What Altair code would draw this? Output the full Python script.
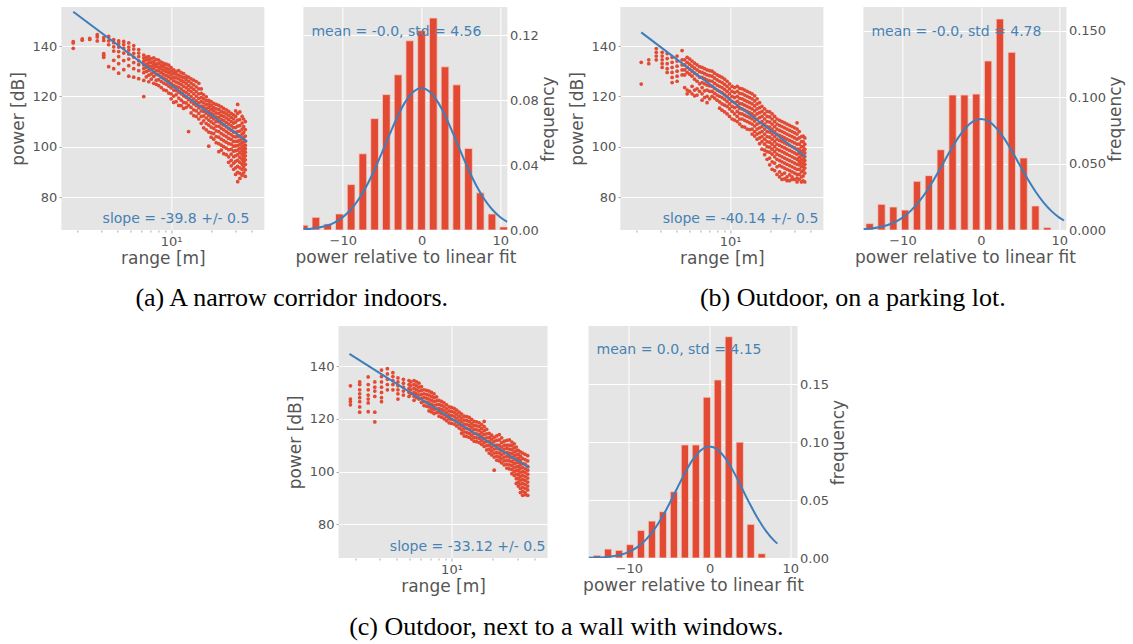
import altair as alt
import pandas as pd

RED = "#E24A33"
BLUE_LINE = "#3D7EBB"
BLUE_TEXT = "#4682B4"
BG = "#E5E5E5"
TXT = "#555555"

# ---------------- scatter data (range [m] columns, power [dB] values) ----------------
a_range = [1.86, 2.17, 2.47, 2.81, 3.14, 3.42, 3.73, 4.06, 4.43, 4.83, 5.26, 5.73, 6.25, 6.81,
           7.42, 8.08, 8.81, 9.6, 10.45, 11.4, 12.4, 13.5, 14.75, 16.1, 17.5, 19.1, 20.8, 22.7,
           24.7, 26.9, 29.3, 31.4, 33.9, 35.8]
a_power = [
    [139.1, 141.2, 141.7],
    [142.3, 142.8],
    [142.6, 143.0],
    [144.5, 143.6, 142.0],
    [143.3, 142.2, 137.0, 135.5, 136.3],
    [143.8, 142.0, 140.5, 131.8],
    [142.5, 141.3, 139.7, 138.0, 134.3, 131.0],
    [142.0, 141.0, 139.6, 137.8, 135.8, 133.0, 129.2],
    [141.8, 140.6, 139.2, 137.2, 134.2, 130.6],
    [141.2, 139.6, 138.4, 136.8, 134.8, 132.2, 128.0],
    [140.2, 138.8, 137.1, 135.6, 133.4, 131.0, 127.6],
    [138.6, 137.2, 135.8, 134.1, 132.6, 130.2, 127.0],
    [136.4, 135.2, 133.9, 132.5, 131.0, 129.4, 126.3, 119.9],
    [135.8, 134.6, 133.3, 132.0, 130.3, 128.4, 125.8],
    [135.3, 133.8, 132.6, 131.2, 129.6, 127.9, 125.2],
    [134.4, 133.0, 131.5, 130.1, 128.5, 126.6, 124.3],
    [133.1, 131.9, 130.4, 128.8, 127.2, 125.3, 122.6],
    [132.4, 130.8, 129.3, 127.7, 126.0, 124.1, 121.3],
    [130.5, 129.2, 127.6, 126.2, 124.4, 122.5, 120.1, 117.6],
    [130.2, 128.4, 126.9, 125.3, 123.6, 121.6, 119.3, 116.4],
    [129.0, 127.4, 125.8, 124.0, 122.1, 120.2, 117.6, 115.2],
    [127.6, 126.0, 124.3, 122.6, 120.8, 118.7, 116.4, 106.0],
    [126.4, 124.6, 122.8, 121.0, 119.0, 117.0, 114.6, 112.3],
    [125.2, 123.0, 121.0, 119.2, 117.4, 115.4, 113.2, 111.0],
    [120.6, 119.0, 117.4, 115.8, 114.0, 112.2, 110.3, 107.5],
    [118.4, 117.0, 115.6, 114.0, 112.4, 110.6, 108.6, 105.8, 100.2],
    [117.2, 115.6, 114.2, 112.6, 111.0, 109.2, 107.3, 105.2, 103.0],
    [116.4, 114.8, 113.2, 111.6, 109.9, 108.1, 106.0, 103.8, 101.2, 98.0],
    [115.2, 113.6, 112.0, 110.4, 108.6, 106.7, 104.6, 102.4, 100.0, 97.2],
    [114.0, 112.4, 110.8, 109.0, 107.2, 105.3, 103.3, 101.2, 98.8, 96.0, 93.8],
    [112.6, 111.0, 109.4, 107.6, 105.8, 104.0, 102.1, 100.2, 98.2, 96.0, 93.4, 91.0],
    [116.8, 113.2, 110.6, 108.2, 106.0, 104.0, 102.2, 100.4, 98.6, 96.8, 94.6, 92.2, 89.8, 86.1],
    [112.0, 109.4, 107.0, 105.0, 103.2, 101.6, 100.0, 98.4, 96.8, 95.0, 93.0, 91.0, 88.6],
    [110.0, 106.8, 104.2, 102.2, 100.6, 99.2, 97.8, 96.4, 94.8, 93.0, 90.8, 88.2],
]
a_range_2 = [6.53, 7.11, 7.75, 8.44, 9.2, 10.0, 10.9, 11.9, 12.95, 14.1, 15.4, 16.8, 18.3, 19.9,
             21.7, 23.7, 25.8, 28.1, 30.3, 32.6, 34.8]
a_power_2 = [
    [135.6, 134.5, 132.8, 131.6, 129.9, 127.7],
    [134.9, 133.5, 132.0, 130.6, 128.9, 126.8],
    [134.6, 132.9, 131.9, 130.2, 128.7, 126.4, 124.8],
    [133.6, 132.2, 130.9, 129.4, 127.7, 125.9, 123.5],
    [132.8, 131.2, 129.8, 128.2, 126.6, 124.8, 122.3],
    [131.4, 130.0, 128.5, 127.0, 125.2, 123.4, 121.0, 119.0],
    [129.9, 128.8, 127.3, 125.7, 124.0, 122.3, 120.6, 117.9],
    [129.4, 127.8, 126.3, 124.8, 122.9, 121.0, 118.5, 116.3],
    [128.0, 126.6, 125.1, 123.4, 121.6, 119.6, 117.4, 115.6],
    [126.9, 125.3, 123.6, 121.9, 119.9, 117.8, 115.6, 113.4],
    [125.9, 123.8, 121.9, 120.1, 118.2, 116.3, 114.2, 112.0],
    [123.0, 121.2, 119.5, 117.9, 116.1, 114.2, 112.0, 109.3],
    [119.8, 118.3, 116.7, 115.1, 113.3, 111.4, 109.2, 106.7],
    [117.9, 116.4, 114.9, 113.3, 111.7, 109.9, 107.8, 105.5, 103.8],
    [116.8, 115.0, 113.4, 111.8, 110.1, 108.2, 106.3, 104.0, 101.6],
    [115.8, 114.0, 112.4, 110.8, 109.1, 107.3, 105.2, 103.0, 100.6, 98.6],
    [114.6, 113.0, 111.4, 109.7, 107.9, 106.0, 104.0, 101.8, 99.4, 96.8],
    [113.2, 111.6, 110.0, 108.3, 106.5, 104.7, 102.9, 101.0, 99.0, 97.0, 94.6, 92.4],
    [114.2, 112.0, 109.8, 107.6, 105.7, 103.9, 102.1, 100.3, 98.4, 96.4, 94.2, 91.6, 89.0],
    [113.8, 110.8, 108.4, 106.2, 104.3, 102.6, 101.0, 99.3, 97.6, 95.8, 93.8, 91.6, 89.4, 87.4],
    [111.0, 108.0, 105.6, 103.6, 101.9, 100.4, 98.9, 97.4, 95.8, 94.0, 92.0, 89.6],
]

b_range = [2.17, 2.47, 2.81, 3.11, 3.39, 3.69, 4.02, 4.38, 4.78, 5.2, 5.67, 6.18, 6.73, 7.34,
           8.0, 8.71, 9.5, 10.35, 11.3, 12.3, 13.4, 14.6, 15.9, 17.3, 18.9, 20.6, 22.4, 24.4,
           26.6, 29.0, 31.6, 34.1, 36.1]
b_power = [
    [133.5, 124.9],
    [134.5, 133.0],
    [139.0, 137.5, 136.0, 134.5],
    [137.5, 136.0, 134.5, 133.0, 131.5],
    [137.0, 135.0, 133.0, 131.0, 129.5],
    [135.5, 133.5, 131.5, 129.5, 127.5, 125.5],
    [136.0, 134.0, 132.0, 130.0, 128.0, 126.0],
    [138.2, 134.5, 132.5, 130.5, 128.5],
    [135.5, 133.5, 131.5, 129.5, 122.5, 121.0],
    [134.0, 132.0, 130.0, 128.0, 124.0, 121.0],
    [132.5, 130.5, 128.5, 126.0, 123.0, 120.5],
    [131.5, 129.5, 127.5, 125.5, 123.5, 121.0, 118.5],
    [130.5, 128.5, 126.5, 124.5, 122.5, 120.0, 117.5],
    [130.0, 128.0, 126.0, 124.0, 122.0, 120.0],
    [128.5, 126.5, 124.5, 122.5, 120.5, 118.5],
    [127.5, 125.5, 123.5, 121.5, 119.5, 117.0, 114.5],
    [126.0, 124.0, 122.0, 120.0, 118.0, 116.0, 113.0],
    [124.0, 122.0, 120.0, 118.0, 116.0, 114.0, 111.0],
    [124.0, 122.0, 120.0, 118.0, 116.0, 114.0, 112.0, 110.0],
    [123.0, 121.0, 119.0, 117.0, 115.0, 113.0, 111.0, 108.0],
    [122.0, 120.0, 118.0, 116.0, 114.0, 112.0, 110.0, 107.0],
    [121.0, 119.0, 117.0, 115.0, 113.0, 111.0, 109.0, 107.0, 105.0],
    [119.0, 117.0, 115.0, 113.0, 111.0, 109.0, 107.0, 105.0, 103.0],
    [116.0, 114.0, 112.0, 110.0, 108.0, 106.0, 104.0, 102.0, 99.0],
    [114.0, 112.0, 110.0, 108.0, 106.0, 104.0, 102.0, 100.0, 98.0, 95.0],
    [113.0, 111.0, 109.0, 107.0, 105.0, 103.0, 101.0, 99.0, 97.0, 94.0, 91.0],
    [111.0, 109.0, 107.0, 105.0, 103.0, 101.0, 99.0, 97.0, 95.0, 92.0, 89.0],
    [110.0, 108.0, 106.0, 104.0, 102.0, 100.0, 98.0, 96.0, 94.0, 92.0, 89.0, 87.0],
    [109.0, 107.0, 105.0, 103.0, 101.0, 99.0, 97.0, 95.0, 93.0, 91.0, 88.0, 86.5],
    [108.0, 106.0, 104.0, 102.0, 100.0, 98.0, 96.0, 94.0, 92.0, 90.0, 88.0, 87.0],
    [109.5, 107.0, 105.0, 103.0, 101.0, 99.0, 97.0, 95.0, 93.0, 91.0, 89.0, 87.5, 86.0],
    [104.0, 102.0, 100.0, 98.0, 96.5, 95.0, 93.5, 92.0, 90.0, 88.0, 86.0],
    [103.5, 101.0, 99.0, 97.5, 96.0, 94.5, 93.0, 91.5, 89.5, 86.0],
]
b_range_2 = [4.58, 4.99, 5.43, 5.92, 6.45, 7.03, 7.66, 8.35, 9.1, 9.9, 10.8, 11.8, 12.85, 14.0,
             15.25, 16.6, 18.1, 19.75, 21.5, 23.4, 25.5, 27.8, 30.3, 32.8, 35.1]
b_power_2 = [
    [134.5, 132.5, 130.5, 128.5, 123.5],
    [134.8, 132.8, 130.8, 128.8, 122.0],
    [133.2, 131.2, 129.2, 126.8, 122.5, 120.2],
    [131.8, 129.8, 127.6, 125.0, 122.0],
    [131.0, 129.0, 127.0, 125.0, 122.2, 119.5],
    [130.2, 128.2, 126.2, 124.2, 122.0, 119.0],
    [129.2, 127.2, 125.2, 123.2, 121.2, 119.3],
    [128.0, 126.0, 124.0, 122.0, 120.0, 117.8, 115.3],
    [126.8, 124.8, 122.8, 120.8, 118.8, 116.5, 113.8],
    [125.0, 123.0, 121.0, 119.0, 117.0, 115.0, 112.0],
    [123.5, 121.5, 119.5, 117.5, 115.5, 113.0, 110.6],
    [123.2, 121.2, 119.2, 117.2, 115.2, 113.2, 111.0, 109.0],
    [122.5, 120.5, 118.5, 116.5, 114.5, 112.5, 110.5, 107.8],
    [121.5, 119.5, 117.5, 115.5, 113.5, 111.5, 109.5, 106.8],
    [120.2, 118.2, 116.2, 114.2, 112.2, 110.2, 108.2, 106.0, 104.2],
    [117.5, 115.5, 113.5, 111.5, 109.5, 107.5, 105.5, 103.5, 101.2],
    [115.0, 113.0, 111.0, 109.0, 107.0, 105.0, 103.0, 101.0, 98.6, 96.8],
    [113.8, 111.8, 109.8, 107.8, 105.8, 103.8, 101.8, 99.8, 97.8, 95.5, 92.8],
    [112.0, 110.0, 108.0, 106.0, 104.0, 102.0, 100.0, 98.0, 96.0, 93.5, 90.5],
    [110.5, 108.5, 106.5, 104.5, 102.5, 100.5, 98.5, 96.5, 94.5, 92.5, 90.0, 88.0],
    [109.5, 107.5, 105.5, 103.5, 101.5, 99.5, 97.5, 95.5, 93.5, 91.5, 89.5, 87.2],
    [108.5, 106.5, 104.5, 102.5, 100.5, 98.5, 96.5, 94.5, 92.5, 90.5, 88.8, 86.5],
    [107.5, 105.5, 103.5, 101.5, 99.5, 97.5, 95.5, 93.5, 91.5, 89.5, 87.0],
    [106.0, 103.5, 101.0, 99.0, 97.3, 95.8, 94.2, 92.8, 91.0, 89.0, 87.0],
    [104.2, 102.0, 100.0, 98.4, 96.8, 95.2, 93.8, 92.3, 90.6, 88.4, 86.4],
]

c_range = [1.85, 2.16, 2.49, 2.78, 3.11, 3.43, 3.76, 4.09, 4.48, 4.92, 5.35, 5.81, 6.32, 6.87,
           7.47, 8.13, 8.83, 9.61, 10.45, 11.36, 12.35, 13.43, 14.6, 15.88, 17.26, 18.76, 20.4,
           22.2, 24.1, 26.3, 28.5, 30.5, 32.8, 35.7]
c_power = [
    [132.5, 127.5, 126.5, 125.3],
    [134.0, 133.0, 131.0, 129.5, 128.0, 126.5, 124.5, 122.5],
    [135.9, 133.0, 131.0, 129.0, 127.5, 126.0, 122.7],
    [134.0, 132.0, 130.5, 128.5, 122.5, 118.8],
    [138.5, 136.0, 134.0, 132.0, 130.0, 128.0, 126.5],
    [139.0, 137.0, 135.0, 133.0, 131.0],
    [137.5, 136.0, 134.5, 133.0, 131.0],
    [135.5, 134.0, 132.5, 131.0, 129.5, 127.5],
    [135.0, 133.5, 132.0, 130.5, 129.0],
    [134.5, 133.0, 131.5, 130.0, 128.5],
    [134.5, 133.0, 131.5, 130.0, 128.5, 127.0],
    [133.5, 132.0, 130.5, 129.0, 127.5],
    [131.0, 129.5, 128.0, 126.5, 125.0],
    [130.5, 129.0, 127.5, 126.0, 124.5, 123.0],
    [129.5, 128.0, 126.5, 125.0, 123.5, 122.0],
    [127.0, 125.5, 124.0, 122.5, 121.0],
    [126.0, 124.5, 123.0, 121.5, 120.0],
    [124.5, 123.0, 121.5, 120.0, 118.5],
    [124.0, 122.5, 121.0, 119.5, 118.0],
    [122.5, 121.0, 119.5, 118.0, 116.5],
    [121.0, 119.5, 118.0, 116.5, 115.0, 113.5],
    [120.5, 119.0, 117.5, 116.0, 114.5, 113.0],
    [119.0, 117.5, 116.0, 114.5, 113.0, 111.5],
    [118.5, 117.0, 115.5, 114.0, 112.5, 111.0],
    [119.0, 117.0, 115.5, 114.0, 112.5, 111.0, 109.5],
    [114.5, 113.0, 111.5, 110.0, 108.5, 107.0],
    [113.0, 111.5, 110.0, 108.5, 107.0, 105.5, 100.5],
    [114.0, 112.0, 110.0, 108.5, 107.0, 105.5, 104.0],
    [111.5, 110.0, 108.5, 107.0, 105.5, 104.0, 102.5],
    [112.0, 110.0, 108.5, 107.0, 105.5, 104.0, 102.5, 101.0],
    [110.5, 109.0, 107.5, 106.0, 104.5, 103.0, 101.5, 100.0, 98.5],
    [108.0, 106.5, 105.0, 103.5, 102.0, 100.5, 99.0, 97.5, 96.0, 94.5],
    [107.0, 105.0, 103.0, 101.5, 100.0, 98.5, 97.0, 95.5, 94.0, 92.5, 91.0],
    [106.0, 104.0, 102.0, 100.5, 99.0, 97.5, 96.0, 94.5, 93.0, 91.0],
]
c_range_2 = [5.08, 5.58, 6.06, 6.6, 7.17, 7.8, 8.48, 9.22, 10.0, 10.9, 11.85, 12.9, 14.0, 15.2,
             16.55, 18.0, 19.55, 21.3, 23.1, 25.2, 27.4, 29.5, 31.6, 34.2]
c_power_2 = [
    [134.0, 132.5, 131.0, 129.5],
    [134.0, 132.5, 131.0, 129.5, 128.0],
    [132.2, 130.8, 129.3, 127.8, 126.2],
    [130.8, 129.3, 127.8, 126.3, 124.8],
    [130.0, 128.5, 127.0, 125.5, 124.0, 122.6],
    [128.3, 126.8, 125.3, 123.8, 122.3],
    [126.6, 125.1, 123.6, 122.1, 120.6],
    [125.3, 123.8, 122.3, 120.8, 119.3],
    [124.3, 122.8, 121.3, 119.8, 118.3],
    [123.3, 121.8, 120.3, 118.8, 117.3],
    [121.8, 120.3, 118.8, 117.3, 115.8, 114.5],
    [120.8, 119.3, 117.8, 116.3, 114.8, 113.3],
    [119.8, 118.3, 116.8, 115.3, 113.8, 112.3],
    [118.8, 117.3, 115.8, 114.3, 112.8, 111.3],
    [117.8, 116.3, 114.8, 113.3, 111.8, 110.3],
    [116.0, 114.3, 112.8, 111.3, 109.8, 108.2],
    [113.8, 112.3, 110.8, 109.3, 107.8, 106.3],
    [113.5, 111.8, 110.0, 108.8, 107.3, 105.8, 104.3],
    [112.8, 111.0, 109.3, 107.8, 106.3, 104.8, 103.3],
    [111.8, 110.0, 108.8, 107.3, 105.8, 104.3, 102.8, 101.3],
    [111.2, 109.8, 108.3, 106.8, 105.3, 103.8, 102.3, 100.8, 99.2],
    [109.3, 107.8, 106.3, 104.8, 103.3, 101.8, 100.3, 98.8, 97.3, 95.5],
    [107.5, 105.8, 104.2, 102.6, 101.2, 99.7, 98.2, 96.7, 95.2, 93.6, 92.0],
    [106.5, 104.5, 102.8, 101.0, 99.6, 98.1, 96.6, 95.1, 93.6, 92.0, 91.2],
]

# linear fits (end points)
a_fit_range = [1.86, 36.9]
a_fit_power = [153.6, 102.0]
b_fit_range = [2.17, 36.6]
b_fit_power = [145.4, 96.0]
c_fit_range = [1.82, 36.6]
c_fit_power = [144.6, 101.4]

slope_labels = ["slope = -39.8 +/- 0.5", "slope = -40.14 +/- 0.5", "slope = -33.12 +/- 0.5"]
stat_labels = ["mean = -0.0, std = 4.56", "mean = -0.0, std = 4.78", "mean = 0.0, std = 4.15"]
captions = ["(a) A narrow corridor indoors.", "(b) Outdoor, on a parking lot.",
            "(c) Outdoor, next to a wall with windows."]

# ---------------- histogram data ----------------
a_bin_center = [-14.9, -13.41, -11.92, -10.43, -8.94, -7.45, -5.96, -4.47, -2.98, -1.49, 0.0,
                1.49, 2.98, 4.47, 5.96, 7.45, 8.94, 10.43]
a_freq = [0.003, 0.0078, 0.0037, 0.0099, 0.028, 0.047, 0.0687, 0.0835, 0.0957, 0.1167, 0.1229,
          0.1307, 0.1006, 0.0895, 0.0503, 0.0229, 0.0099, 0.0019]
b_bin_center = [-14.2, -12.69, -11.18, -9.67, -8.16, -6.65, -5.13, -3.62, -2.11, -0.60, 0.91,
                2.42, 3.93, 5.44, 6.95, 8.46]
b_freq = [0.0048, 0.0193, 0.0173, 0.015, 0.0366, 0.0409, 0.0604, 0.1016, 0.1016, 0.1023, 0.1272,
          0.1588, 0.1337, 0.0542, 0.0181, 0.0018]
c_bin_center = [-13.94, -12.58, -11.22, -9.86, -8.50, -7.14, -5.78, -4.42, -3.06, -1.70, -0.34,
                1.02, 2.38, 3.74, 5.10, 6.46]
c_freq = [0.0023, 0.0077, 0.0066, 0.0115, 0.0238, 0.0318, 0.0399, 0.0571, 0.0975, 0.0975, 0.1386,
          0.1535, 0.1908, 0.0998, 0.029, 0.0037]

# gaussian fit curves
a_gx = [-15, -14, -13, -12, -11, -10, -9, -8, -7, -6, -5, -4, -3, -2, -1, 0, 1, 2, 3, 4, 5, 6,
        7, 8, 9, 10, 10.9]
a_gy = [0.00039, 0.00079, 0.0015, 0.00275, 0.00477, 0.0079, 0.01248, 0.01878, 0.02694, 0.03682,
        0.04796, 0.05955, 0.07047, 0.07947, 0.08541, 0.08749, 0.08541, 0.07947, 0.07047, 0.05955,
        0.04796, 0.03682, 0.02694, 0.01878, 0.01248, 0.0079, 0.00502]
b_gx = [-15, -14, -13, -12, -11, -10, -9, -8, -7, -6, -5, -4, -3, -2, -1, 0, 1, 2, 3, 4, 5, 6,
        7, 8, 9, 10, 10.6]
b_gy = [0.00061, 0.00115, 0.00207, 0.00357, 0.00591, 0.00936, 0.01419, 0.02058, 0.02857, 0.03797,
        0.0483, 0.05881, 0.06855, 0.07647, 0.08166, 0.08346, 0.08166, 0.07647, 0.06855, 0.05881,
        0.0483, 0.03797, 0.02857, 0.02058, 0.01419, 0.00936, 0.00714]
c_gx = [-15, -14, -13, -12, -11, -10, -9, -8, -7, -6, -5, -4, -3, -2, -1, 0, 1, 2, 3, 4, 5, 6,
        7, 8, 8.4]
c_gy = [0.00014, 0.00033, 0.00071, 0.00147, 0.00287, 0.00527, 0.00915, 0.01499, 0.02318, 0.03381,
        0.04652, 0.06041, 0.07403, 0.0856, 0.09338, 0.09613, 0.09338, 0.0856, 0.07403, 0.06041,
        0.04652, 0.03381, 0.02318, 0.01499, 0.01239]

X_DOMAIN = [1.517, 49.7]
MINOR = [2, 3, 4, 5, 6, 7, 8, 9, 10, 20, 30, 40]


def scatter_panel(cols, fr, fp, label, w, h, ydom, tx, ty):
    rows = []
    for rng, pw in cols:
        for x, ys in zip(rng, pw):
            for y in ys:
                rows.append({"range": x, "power": y})
    df = pd.DataFrame(rows)
    xs = alt.Scale(type="log", domain=X_DOMAIN, nice=False)
    ys_ = alt.Scale(domain=ydom, nice=False, zero=False)
    xaxis = alt.Axis(values=MINOR, labelExpr="datum.value == 10 ? '10¹' : ''",
                     title="range [m]", labelOverlap=False,
                     gridOpacity={"condition": {"test": "datum.value == 10", "value": 1}, "value": 0},
                     tickSize={"condition": {"test": "datum.value == 10", "value": 3}, "value": 2},
                     labelPadding=2, titlePadding=2)
    yaxis = alt.Axis(values=[80, 100, 120, 140], title="power [dB]", tickSize=2.5,
                     labelPadding=2, titlePadding=5)
    pts = alt.Chart(df).mark_circle(size=14, color=RED, opacity=1, clip=True).encode(
        x=alt.X("range:Q", scale=xs, axis=xaxis),
        y=alt.Y("power:Q", scale=ys_, axis=yaxis),
    )
    fit = alt.Chart(pd.DataFrame({"range": fr, "power": fp})).mark_line(
        color=BLUE_LINE, strokeWidth=2, clip=True).encode(x="range:Q", y="power:Q")
    txt = alt.Chart(pd.DataFrame({"t": [label]})).mark_text(
        align="right", baseline="alphabetic", fontSize=14, color=BLUE_TEXT,
        font="DejaVu Sans").encode(text="t:N", x=alt.value(tx), y=alt.value(ty))
    return alt.layer(pts, fit, txt).properties(width=w, height=h)


def hist_panel(centers, freq, hw, gx, gy, label, w, h, ymax, yvals, yfmt, ty):
    dfh = pd.DataFrame({"c": centers, "f": freq})
    xs = alt.Scale(domain=[-15, 10.9], nice=False, zero=False)
    ys_ = alt.Scale(domain=[0, ymax], nice=False)
    bars = alt.Chart(dfh).transform_calculate(
        lo=f"datum.c - {hw}", hi=f"datum.c + {hw}"
    ).mark_rect(color=RED, stroke="#F4CFC8", strokeWidth=0.8, clip=True).encode(
        x=alt.X("lo:Q", scale=xs, axis=alt.Axis(values=[-10, 0, 10],
                                                title="power relative to linear fit",
                                                tickSize=0, labelPadding=4, titlePadding=2)),
        x2="hi:Q",
        y=alt.Y("f:Q", scale=ys_, axis=alt.Axis(orient="right", values=yvals, format=yfmt,
                                                title="frequency", titleAngle=270,
                                                titleBaseline="top",
                                                tickSize=0, labelPadding=2, titlePadding=2)),
        y2=alt.datum(0),
    )
    curve = alt.Chart(pd.DataFrame({"x": gx, "y": gy})).mark_line(
        color=BLUE_LINE, strokeWidth=2, clip=True, interpolate="monotone").encode(
        x="x:Q", y="y:Q")
    txt = alt.Chart(pd.DataFrame({"t": [label]})).mark_text(
        align="left", baseline="alphabetic", fontSize=14, color=BLUE_TEXT,
        font="DejaVu Sans").encode(text="t:N", x=alt.value(8), y=alt.value(ty))
    return alt.layer(bars, curve, txt).properties(width=w, height=h)


sa = scatter_panel([(a_range, a_power), (a_range_2, a_power_2)], a_fit_range, a_fit_power,
                   slope_labels[0], 203, 223, [66.9, 155.5], 188, 216)
ha = hist_panel(a_bin_center, a_freq, 0.49, a_gx, a_gy, stat_labels[0], 204, 223, 0.1375,
                [0, 0.02, 0.04, 0.06, 0.08, 0.10, 0.12], ".2f", 29)
sb = scatter_panel([(b_range, b_power), (b_range_2, b_power_2)], b_fit_range, b_fit_power,
                   slope_labels[1], 203, 223, [66.9, 155.5], 198, 216)
hb = hist_panel(b_bin_center, b_freq, 0.47, b_gx, b_gy, stat_labels[1], 203, 223, 0.1678,
                [0, 0.025, 0.05, 0.075, 0.10, 0.125, 0.15], ".3f", 29)
sc = scatter_panel([(c_range, c_power), (c_range_2, c_power_2)], c_fit_range, c_fit_power,
                   slope_labels[2], 209, 232, [67.2, 155.2], 207, 225)
hc = hist_panel(c_bin_center, c_freq, 0.45, c_gx, c_gy, stat_labels[2], 209, 232, 0.2,
                [0, 0.05, 0.10, 0.15], ".2f", 28)


def caption(text, dx=0, offset=19):
    return alt.TitleParams(text=text, orient="bottom", anchor="middle", font="Liberation Serif",
                           fontSize=26, fontWeight="normal", color="black", offset=offset, dx=dx)


ga = alt.hconcat(sa, ha, spacing=30).properties(title=caption(captions[0], 9))
gb = alt.hconcat(sb, hb, spacing=31).properties(title=caption(captions[1], 7))
gc = alt.hconcat(sc, hc, spacing=35).properties(title=caption(captions[2], 0, 20))

row1 = alt.hconcat(ga, gb, spacing=11)
chart = alt.vconcat(row1, gc, spacing=15, center=True).properties(
    padding={"left": 9, "top": 7, "right": 5, "bottom": 5}
).configure_view(fill=BG, strokeWidth=0).configure_axis(
    labelColor=TXT, titleColor=TXT, labelFont="DejaVu Sans", titleFont="DejaVu Sans",
    labelFontSize=13, titleFontSize=17, titleFontWeight="normal", gridColor="white",
    gridWidth=1, domain=False, tickColor="#AAAAAA"
)

chart.save("out.html", embed_options={"renderer": "svg", "actions": False})
